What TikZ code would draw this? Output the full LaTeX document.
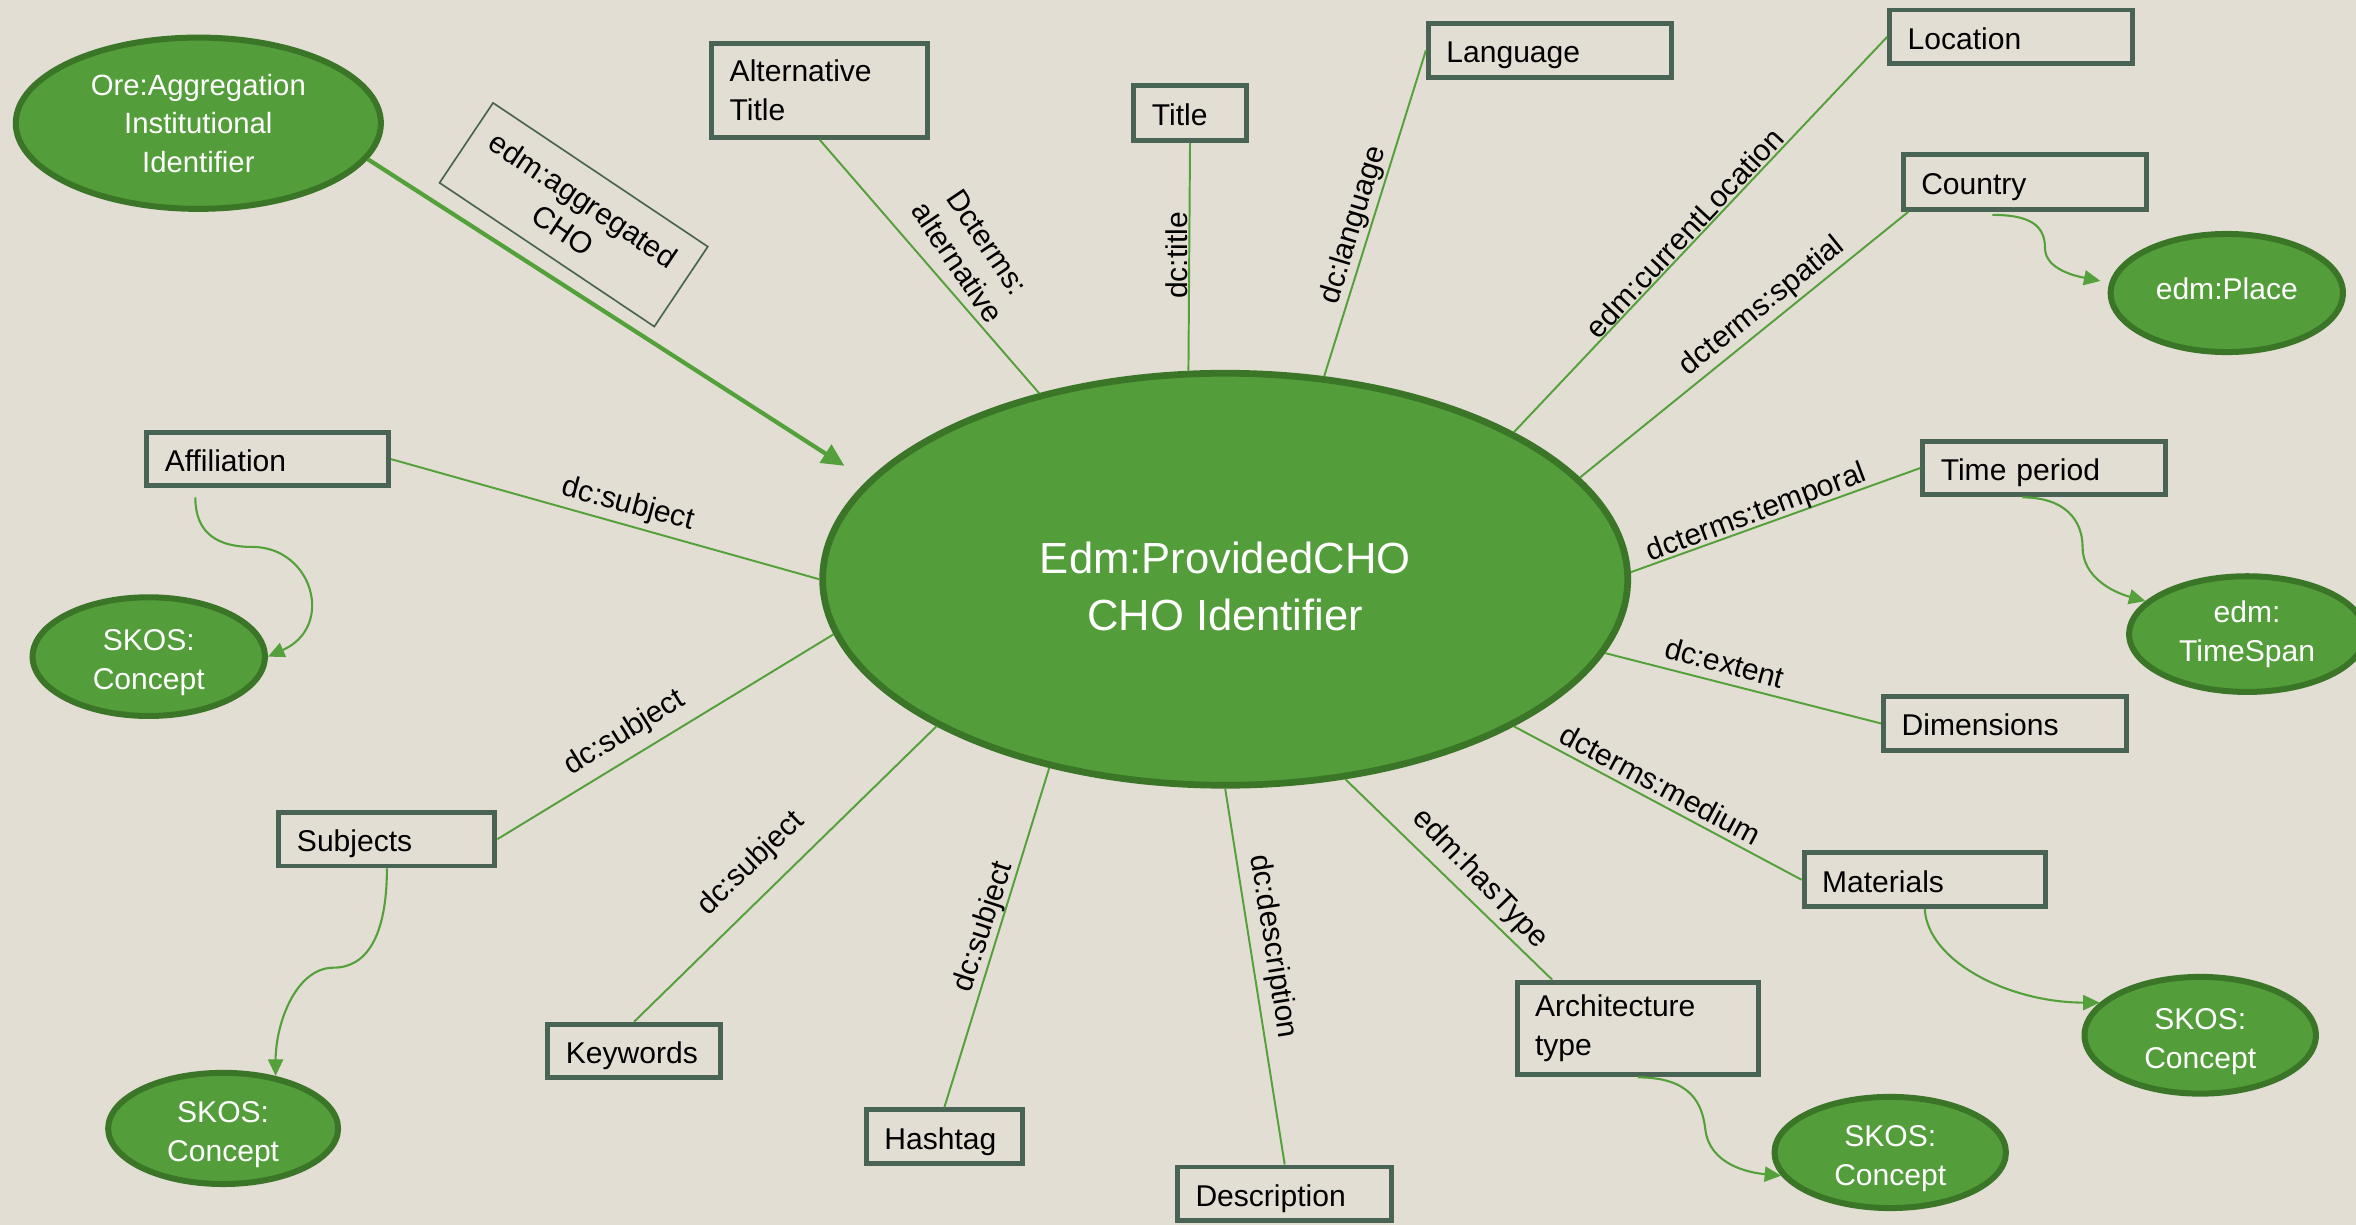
\documentclass[tikz,border=0pt]{standalone}
\usepackage{fontspec}
\setmainfont{Liberation Sans}
\usetikzlibrary{arrows.meta,calc,shapes.geometric}
\definecolor{bgc}{RGB}{227,222,211}
\definecolor{ellfill}{RGB}{83,158,58}
\definecolor{elldraw}{RGB}{59,118,40}
\definecolor{boxc}{RGB}{73,99,84}
\definecolor{linec}{RGB}{84,161,59}
\newcommand\skostext{\rule{0pt}{22pt}SKOS:\\Concept}
\begin{document}
\begin{tikzpicture}[x=1pt,y=-1pt,
  every node/.style={font=\fontsize{20}{26}\selectfont},
  bx/.style n args={3}{draw=boxc, line width=3.3pt, align=left, inner xsep=12pt, inner ysep=0pt,
     minimum width=#1, minimum height=#2, text width=#3},
  one/.style={text height=19.5pt, text depth=3pt},
  ell/.style n args={2}{ellipse, fill=ellfill, draw=elldraw, line width=4pt, text=white,
     align=center, inner sep=0pt, minimum width=#1, minimum height=#2},
  conn/.style={draw=linec, line width=1.3pt},
  lbl/.style={inner sep=0pt, align=center, font=\fontsize{20}{24}\selectfont},
  carr/.style={draw=linec, line width=1.4pt, -{Triangle[length=11pt,width=10pt]}},
]
\fill[bgc] (0,0) rectangle (1568,815);
\useasboundingbox (0,0) rectangle (1568,815);

% central and outer ellipses
\node[ell={535.8}{274.2}, line width=4.5pt, font=\fontsize{29}{38}\selectfont] (cho) at (815.4,385.5) {\rule{0pt}{31pt}Edm:ProvidedCHO\\CHO Identifier};
\node[ell={243}{114}, font=\fontsize{19.5}{25.5}\selectfont] (ore) at (132,82) {Ore:Aggregation\\Institutional\\Identifier};
\node[ell={154.6}{78.6}, text depth=6pt] (place) at (1482,195) {edm:Place};
\node[ell={157}{77}] (tspan) at (1495.5,422) {edm:\\TimeSpan};
\node[ell={154.6}{79}] (skosa) at (99,437) {\skostext};
\node[ell={153}{74}] (skosb) at (148.5,751) {\skostext};
\node[ell={154}{77.7}] (skosc) at (1464.3,689) {\skostext};
\node[ell={154}{74}] (skosd) at (1258,767) {\skostext};

% boxes
\node[bx={143.7}{62.7}{119.7}] (alt) at (545.5,60) {Alternative\\Title};
\node[bx={74.7}{36.7}{50.7}, one] (title) at (792,75) {Title};
\node[bx={161.7}{35.7}{137.7}, one] (lang) at (1031.5,33.5) {Language};
\node[bx={161.7}{35.7}{137.7}, one] (loc) at (1338.5,24.5) {Location};
\node[bx={161.7}{36.7}{137.7}, one] (country) at (1347.5,121) {Country};
\node[bx={161.7}{35.7}{137.7}, one] (time) at (1360.5,311.5) {Time period};
\node[bx={161.7}{35.7}{137.7}, one] (dim) at (1334.5,481.5) {Dimensions};
\node[bx={160.7}{35.7}{136.7}, one] (mat) at (1281,585.5) {Materials};
\node[bx={160.7}{61.7}{136.7}] (arch) at (1090,684.5) {Architecture\\type};
\node[bx={142.7}{35.7}{118.7}, one] (desc) at (855,794.5) {Description};
\node[bx={103.7}{35.7}{79.7}, one] (hash) at (628.5,756.5) {Hashtag};
\node[bx={114.7}{35.7}{90.7}, one] (kw) at (422,699.5) {Keywords};
\node[bx={143.7}{35.7}{119.7}, one] (subj) at (257.5,558.5) {Subjects};
\node[bx={160.7}{35.7}{136.7}, one] (aff) at (178,305.5) {Affiliation};

% connectors to the central ellipse
\draw[conn] (alt.south) -- (cho.135);
\draw[conn] (title.south) -- (cho.100);
\draw[conn] (lang.west) -- (cho.64);
\draw[conn] (loc.west) -- (cho.27);
\draw[conn] ($(country.south west)+(5,0)$) -- (cho.16);
\draw[conn] (time.west) -- (cho.1);
\draw[conn] (dim.west) -- (cho.-11);
\draw[conn] (mat.west) -- (cho.-27);
\draw[conn] ($(arch.north west)+(25,0)$) -- (cho.-59);
\draw[conn] (desc.north) -- (cho.-90);
\draw[conn] (hash.north) -- (cho.227);
\draw[conn] (kw.north) -- (cho.207);
\draw[conn] (subj.east) -- (cho.188);
\draw[conn] (aff.east) -- (cho.180);

% thick aggregation arrow
\coordinate (tip) at (562,310);
\draw[draw=linec, line width=2.8pt, -{Triangle[length=15pt,width=14pt]}] (ore.-12) -- (tip);
\node[draw=boxc, line width=1.1pt, rotate=-33.8, minimum width=172pt, minimum height=64pt,
      inner sep=0pt, align=center, font=\fontsize{20}{24}\selectfont] (agg) at (381.8,142.9) {edm:aggregated\\CHO};

% connector labels
\node[lbl, rotate=-56] (lalt) at (647,168) {Dcterms:\\alternative};
\node[lbl, rotate=90] (ltitle) at (783,170) {dc:title};
\node[lbl, rotate=73] (llang) at (901,150) {dc:language};
\node[lbl, rotate=47] (lloc) at (1121,155) {edm:currentLocation};
\node[lbl, rotate=39] (lcountry) at (1173,204) {dcterms:spatial};
\node[lbl, rotate=20.5] (ltime) at (1169,342) {dcterms:temporal};
\node[lbl, rotate=-15] (ldim) at (1148,441) {dc:extent};
\node[lbl, rotate=-28] (lmat) at (1105,522) {dcterms:medium};
\node[lbl, rotate=-46] (larch) at (985,585) {edm:hasType};
\node[lbl, rotate=-81] (ldesc) at (847,630) {dc:description};
\node[lbl, rotate=72] (lhash) at (655,617) {dc:subject};
\node[lbl, rotate=44] (lkw) at (500,575) {dc:subject};
\node[lbl, rotate=32] (lsubj) at (416,488) {dc:subject};
\node[lbl, rotate=-15] (laff) at (418,336) {dc:subject};

% curved arrows to the class ellipses
\draw[carr] ($(aff.south west)+(34,6)$) .. controls +(0,25) and +(-22,0) .. (168,364)
   .. controls +(40,0) and +(45,-20) .. (skosa.east);
\draw[carr] (subj.south) .. controls +(0,45) and +(22,0) .. (222,644)
   .. controls +(-25,0) and +(0,-35) .. (skosb.45);
\draw[carr, shorten >=6pt] ($(country.south west)+(61,2)$) .. controls +(25,0) and +(0,-15) .. (1361,165)
   .. controls +(0,15) and +(-20,-4) .. (place.175);
\draw[carr] ($(time.south west)+(68,0)$) .. controls +(28,0) and +(0,-18) .. (1386,364)
   .. controls +(0,20) and +(-22,-6) .. (tspan.162);
\draw[carr] (mat.south) .. controls +(2,35) and +(-60,0) .. (skosc.162);
\draw[carr] (arch.south) .. controls +(35,0) and +(-2,-18) .. (1135,752)
   .. controls +(3,23) and +(-22,-2) .. (skosd.192);
\end{tikzpicture}
\end{document}
